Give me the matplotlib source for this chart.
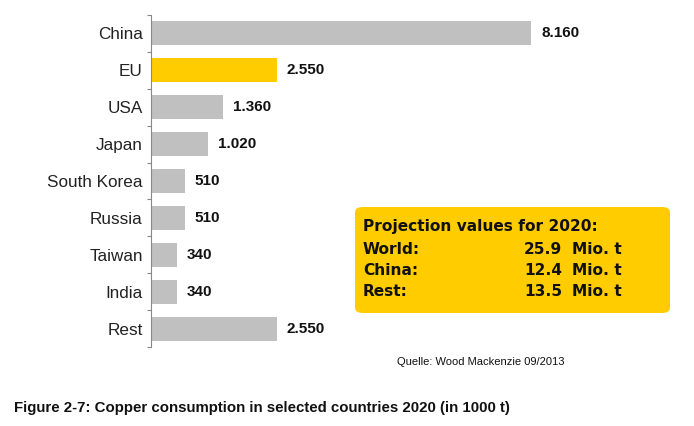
import matplotlib
matplotlib.use("Agg")
import matplotlib.pyplot as plt
from matplotlib.patches import FancyBboxPatch

categories = ["China", "EU", "USA", "Japan", "South Korea", "Russia", "Taiwan", "India", "Rest"]
values = [8160, 2550, 1360, 1020, 510, 510, 340, 340, 2550]
value_labels = ["8.160", "2.550", "1.360", "1.020", "510", "510", "340", "340", "2.550"]
highlight = "EU"

box_title = "Projection values for 2020:"
box_rows = ["World:", "China:", "Rest:"]
box_values = ["25.9", "12.4", "13.5"]
box_unit = "Mio. t"
source = "Quelle: Wood Mackenzie 09/2013"
caption = "Figure 2-7: Copper consumption in selected countries 2020 (in 1000 t)"

W, H = 694, 426
fig = plt.figure(figsize=(W / 100, H / 100), dpi=100)
plt.rcParams['font.family'] = ['Liberation Sans', 'DejaVu Sans']

# value axis starts slightly below zero (bars grow from the axis minimum)
x_min, x_max = -234, 10800
ax_left, ax_top, ax_bot = 151, 15, 347
ax_w = 500
ax = fig.add_axes([ax_left / W, 1 - ax_bot / H, ax_w / W, (ax_bot - ax_top) / H])
ax.set_xlim(x_min, x_max)
ax.set_ylim(len(categories) - 0.5, -0.5)

gray = "#C0C0C0"
yellow = "#FFCC00"
colors = [yellow if c == highlight else gray for c in categories]
ypos = list(range(len(categories)))
ax.barh(ypos, [v - x_min for v in values], left=x_min, height=0.65, color=colors, edgecolor="none")

for y, v, lab in zip(ypos, values, value_labels):
    ax.annotate(lab, (v, y), xytext=(7, 0), textcoords="offset points",
                ha="left", va="center", fontsize=11, fontweight="bold", color="#111111")

for s in ["top", "right", "bottom"]:
    ax.spines[s].set_visible(False)
ax.spines["left"].set_color("#888888")
ax.spines["left"].set_linewidth(0.8)
ax.set_xticks([])
ax.set_yticks(ypos)
ax.set_yticklabels(categories, fontsize=12.3, color="#222222")
ax.tick_params(axis="y", which="major", length=0, pad=6)
ax.set_yticks([i - 0.5 for i in range(len(categories) + 1)], minor=True)
ax.tick_params(axis="y", which="minor", length=3, width=0.8, color="#888888", direction="out")

# projection box
bx0, by0, bx1, by1 = 355, 207, 670, 313
box = FancyBboxPatch((bx0 / W, 1 - by1 / H), (bx1 - bx0) / W, (by1 - by0) / H,
                     boxstyle="round,pad=0,rounding_size=0.012", transform=fig.transFigure,
                     facecolor=yellow, edgecolor="none")
fig.patches.append(box)
bfont = dict(fontsize=11.1, fontweight="bold", family=["DejaVu Sans"], color="#111111", va="center")
fig.text(363 / W, 1 - 227 / H, box_title, ha="left", **bfont)
for i, (r, v) in enumerate(zip(box_rows, box_values)):
    yy = 1 - (249 + i * 21.5) / H
    fig.text(363 / W, yy, r, ha="left", **bfont)
    fig.text(562 / W, yy, v, ha="right", **bfont)
    fig.text(572 / W, yy, box_unit, ha="left", **bfont)

fig.text(397 / W, 1 - 362 / H, source, ha="left", va="center", fontsize=8, color="#111111")
fig.text(14 / W, 1 - 408 / H, caption, ha="left", va="center", fontsize=10.8,
         fontweight="bold", color="#111111")

fig.savefig("out.png", dpi=100)
